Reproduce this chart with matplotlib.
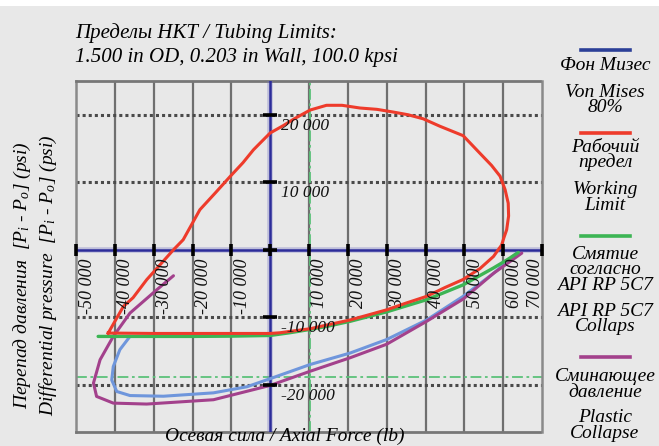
import matplotlib
matplotlib.use('Agg')
import matplotlib.pyplot as plt
from matplotlib.lines import Line2D
from matplotlib.patches import Rectangle
from matplotlib.transforms import offset_copy

# --- data (axial force lb, differential pressure psi) ---
working_x = [-41700, -37800, -35300, -31800, -28000, -24900, -22400, -18100, -14000, -10300,
             -7000, -4300, -2600, 0, 3400, 6500, 10300, 14500, 18500, 23100, 27500, 31700,
             35500, 39400, 43700, 49700, 54000, 57000, 59200, 60500, 61300, 61400, 60900,
             60200, 59600, 57500, 54000, 49700, 45000, 40300, 35000, 30000, 25000, 20600,
             15000, 10300, 5000, 2500, 0, -10000, -20000, -30000, -41700]
working_y = [-12340, -8400, -7100, -4440, -2000, 0, 1480, 5930, 8500, 10860,
             12900, 14810, 15800, 17300, 18400, 19500, 20700, 21400, 21400, 21000, 20800, 20400,
             20000, 19400, 18300, 16900, 14300, 12500, 10900, 8900, 6900, 5000, 2960,
             1800, 700, -1000, -2800, -4400, -5600, -6900, -7900, -8900, -9700, -10400,
             -11100, -11700, -12100, -12300, -12400, -12400, -12400, -12400, -12340]

api_x = [-44300, -30000, -20000, -10000, 0, 5000, 10300, 15000, 20600, 30000, 40300, 49700,
         57500, 61000, 63900]
api_y = [-12840, -12840, -12840, -12800, -12700, -12300, -11800, -11300, -10600, -9200,
         -7400, -5200, -2700, -1500, -400]

mises_x = [-36100, -38700, -40400, -40800, -39500, -36100, -27500, -14600, -6000, 0, 10300,
           20600, 30000, 40300, 49700, 57500, 63500]
mises_y = [-12840, -14800, -17300, -19300, -21000, -21600, -21700, -21200, -20300, -19100,
           -17000, -15300, -13300, -10400, -6900, -3500, -500]

plastic_x = [-24900, -29200, -36100, -40400, -43800, -45500, -44700, -40400, -31800, -14600,
             0, 10300, 20600, 30000, 40300, 49700, 57500, 64800]
plastic_y = [-3850, -5930, -9380, -12840, -16300, -19750, -21730, -22720, -22860, -22220,
             -20100, -18000, -16000, -14000, -10600, -7300, -3500, -500]

tension_x = 10300      # green dash-dot vertical
collapse_y = -18900    # green dash-dot horizontal

x_ticks = [-50000, -40000, -30000, -20000, -10000, 0, 10000, 20000, 30000, 40000, 50000,
           60000, 70000]
y_ticks = [-20000, -10000, 10000, 20000]
x_lim = (-50000, 70000)
y_lim = (-27000, 25000)

title_lines = ["Пределы НКТ / Tubing Limits:", "1.500 in OD, 0.203 in Wall, 100.0 kpsi"]
xlabel = "Осевая сила / Axial Force (lb)"
ylabel_ru = r"Перепад давления  [$P_i$ - $P_o$] (psi)"
ylabel_en = r"Differential pressure  [$P_i$ - $P_o$] (psi)"

legend_entries = [
    ('#2b3f97', "Фон Мизес", "Von Mises\n80%"),
    ('#ee3b2b', "Рабочий\nпредел", "Working\nLimit"),
    ('#3cb554', "Смятие\nсогласно\nAPI RP 5C7", "API RP 5C7\nCollaps"),
    ('#a3418c', "Сминающее\nдавление", "Plastic\nCollapse"),
]

plt.rcParams['font.family'] = ['Liberation Serif', 'DejaVu Serif']
plt.rcParams['font.style'] = 'italic'
plt.rcParams['mathtext.fontset'] = 'custom'
plt.rcParams['mathtext.it'] = 'Liberation Serif:italic'
plt.rcParams['mathtext.rm'] = 'Liberation Serif:italic'

BG = '#e8e8e8'
W, H = 659, 446
fig = plt.figure(figsize=(W / 100, H / 100), dpi=100, facecolor=BG)
fig.patches.append(Rectangle((0, 1 - 6 / H), 1, 6 / H, transform=fig.transFigure,
                             facecolor='white', edgecolor='none'))

ax = fig.add_axes([76 / W, 1 - 432 / H, 466 / W, 351 / H])
ax.set_facecolor(BG)
ax.set_xlim(*x_lim)
ax.set_ylim(*y_lim)
ax.set_xticks([])
ax.set_yticks([])
for side in ['top', 'bottom']:
    ax.spines[side].set_linestyle((0, (1, 1)))
    ax.spines[side].set_color('#777777')
    ax.spines[side].set_linewidth(2.0)
for side in ['left', 'right']:
    ax.spines[side].set_linestyle((0, (1, 1)))
    ax.spines[side].set_color('#8a8a8a')
    ax.spines[side].set_linewidth(1.8)

# grid
for x in x_ticks[1:-1]:
    if x != 0:
        ax.axvline(x, color='#5a5a5a', lw=1.6, alpha=0.85, zorder=1)
for y in y_ticks:
    ax.axhline(y, color='#4a4a4a', lw=2.2, ls=(0, (1, 1)), zorder=1)

# green limit lines
ax.axvline(tension_x, color='#5cc27a', lw=1.3, ls=(0, (6, 2, 1.5, 2)), zorder=2)
ax.axhline(collapse_y, color='#5cc27a', lw=1.3, ls=(0, (6, 2, 1.5, 2)), zorder=2)

# zero axes
for f in (ax.axhline, ax.axvline):
    f(0, color='#7070c0', lw=4, alpha=0.35, zorder=3)
    f(0, color='#2c2c9a', lw=1.8, zorder=3)

# curves
ax.plot(mises_x, mises_y, color='#6f96dc', lw=2.2, zorder=4, solid_capstyle='round')
ax.plot(plastic_x, plastic_y, color='#a3418c', lw=2.2, zorder=4, solid_capstyle='round')
ax.plot(api_x, api_y, color='#3cb554', lw=2.4, zorder=5, solid_capstyle='round')
ax.plot(working_x, working_y, color='#ee3b2b', lw=2.2, zorder=6, solid_joinstyle='round')

# tick marks on the zero axes
ax.plot(x_ticks, [0] * len(x_ticks), ls='none', marker='|', ms=8, mew=2.6,
        color='black', zorder=7, clip_on=False)
ax.plot([0] * len(y_ticks), y_ticks, ls='none', marker='_', ms=10, mew=2.6,
        color='black', zorder=7)
ax.plot([0], [0], ls='none', marker='_', ms=10, mew=2.6, color='black', zorder=7)

xoff = offset_copy(ax.transData, fig=fig, x=2.5, y=-9, units='dots')
for i, x in enumerate(x_ticks):
    if x == 0:
        continue
    lab = f"{x:,}".replace(',', ' ')
    ha = 'right' if i == len(x_ticks) - 1 else 'left'
    ax.text(x, 0, lab, rotation=90, ha=ha, va='top', transform=xoff, clip_on=False,
            zorder=8, fontsize=13, color='#111111')
yoff = offset_copy(ax.transData, fig=fig, x=11, y=-3, units='dots')
for y in y_ticks:
    lab = f"{y:,}".replace(',', ' ')
    ax.text(0, y, lab, ha='left', va='top', transform=yoff, zorder=8, fontsize=12.5,
            color='#111111')

# titles and axis labels
fig.text(75 / W, 1 - 33 / H, title_lines[0], ha='left', va='center', fontsize=15)
fig.text(75 / W, 1 - 58 / H, title_lines[1], ha='left', va='center', fontsize=15)
fig.text(285 / W, 1 - 436 / H, xlabel, ha='center', va='center', fontsize=14)
fig.text(22 / W, 1 - 275 / H, ylabel_ru, ha='center', va='center', rotation=90, fontsize=14)
fig.text(48 / W, 1 - 275 / H, ylabel_en, ha='center', va='center', rotation=90, fontsize=14)

# legend drawn in the right margin
line_y = [50, 133, 236, 357]
ru_y = [65, 155, 270, 384.5]
en_y = [100, 197.5, 319, 425.5]
for (color, ru, en), ly, ry, ey in zip(legend_entries, line_y, ru_y, en_y):
    fig.add_artist(Line2D([581 / W, 630 / W], [1 - ly / H, 1 - ly / H], color=color, lw=2.6,
                          transform=fig.transFigure))
    fig.text(605 / W, 1 - ry / H, ru, ha='center', va='center', fontsize=14,
             linespacing=0.86)
    fig.text(605 / W, 1 - ey / H, en, ha='center', va='center', fontsize=14,
             linespacing=0.86)

fig.savefig('out.png', dpi=100, facecolor=BG)
